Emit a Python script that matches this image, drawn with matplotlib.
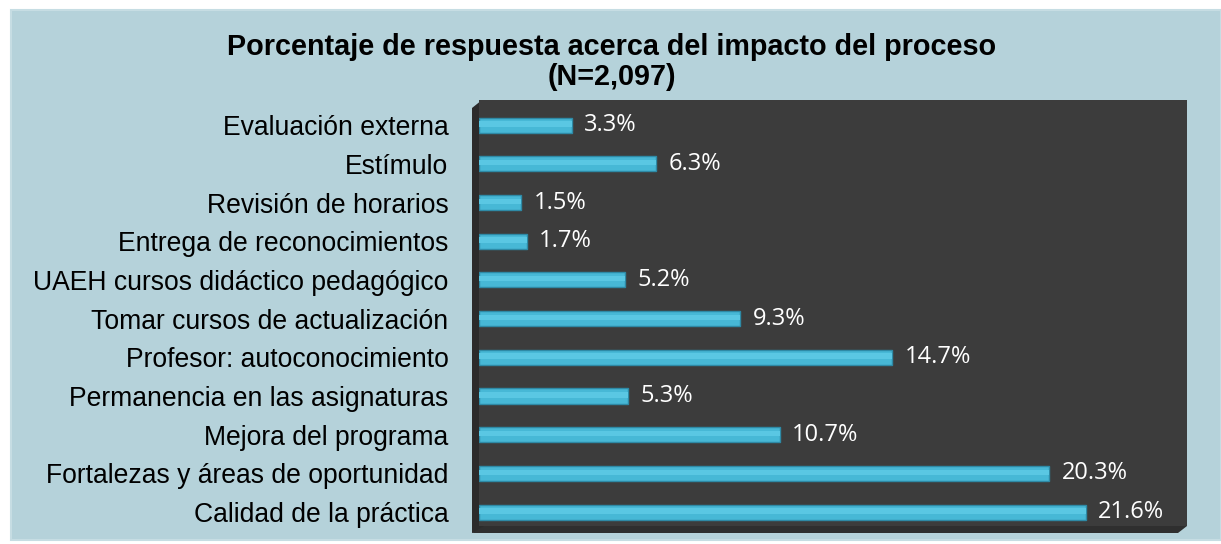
import matplotlib
matplotlib.use("Agg")
import matplotlib.pyplot as plt
from matplotlib.patches import Polygon, Rectangle

categories = ["Calidad de la práctica", "Fortalezas y áreas de oportunidad",
              "Mejora del programa", "Permanencia en las asignaturas",
              "Profesor: autoconocimiento", "Tomar cursos de actualización",
              "UAEH cursos didáctico pedagógico", "Entrega de reconocimientos",
              "Revisión de horarios", "Estímulo", "Evaluación externa"]
values = [21.6, 20.3, 10.7, 5.3, 14.7, 9.3, 5.2, 1.7, 1.5, 6.3, 3.3]
value_labels = ["21.6%", "20.3%", "10.7%", "5.3%", "14.7%", "9.3%",
                "5.2%", "1.7%", "1.5%", "6.3%", "3.3%"]
title = "Porcentaje de respuesta acerca del impacto del proceso\n(N=2,097)"

W, H = 1221, 544
fig = plt.figure(figsize=(W / 100, H / 100), dpi=100)
fig.patch.set_facecolor("white")

def fx(x):
    return x / W

def fy(y):
    return 1 - y / H

# light blue panel
fig.patches.append(Rectangle((fx(11), fy(540)), fx(W - 11), fy(10) - fy(540),
                             transform=fig.transFigure, facecolor="#b5d2da",
                             edgecolor="#c6dde3", linewidth=1.5, zorder=0))

# 3D wall / floor of plot area
wall = Polygon([(fx(472), fy(108)), (fx(482), fy(100)), (fx(484), fy(100)),
                (fx(484), fy(530)), (fx(472), fy(533))],
               closed=True, transform=fig.transFigure, facecolor="#2b2b2b",
               edgecolor="none", zorder=1)
floor = Polygon([(fx(472), fy(533)), (fx(1178), fy(533)), (fx(1187), fy(526)),
                 (fx(484), fy(526))],
                closed=True, transform=fig.transFigure, facecolor="#2f2f2f",
                edgecolor="none", zorder=1)
fig.patches.append(wall)
fig.patches.append(floor)

ax = fig.add_axes([fx(479), fy(526), fx(1187) - fx(479), fy(100) - fy(526)])
ax.set_facecolor("#3c3c3c")
ax.set_zorder(2)

y = list(range(len(categories)))
ax.barh(y, values, height=0.39, color="#47b8d6", edgecolor="#2e8aa6",
        linewidth=1.0, zorder=3)
ax.barh([yi + 0.03 for yi in y], values, height=0.14, color="#5ac7e3",
        edgecolor="none", zorder=4)

for yi, v, lab in zip(y, values, value_labels):
    ax.annotate(lab, (v, yi), xytext=(9, 0), textcoords="offset points",
                va="center", ha="left", color="white", fontsize=17,
                family="Open Sans")

ax.set_xlim(0, 25.2)
ax.set_ylim(-0.36, 10.65)
ax.set_yticks(y)
ax.set_yticklabels(categories, fontsize=19.1, family="Liberation Sans",
                   color="black")
ax.tick_params(axis="y", length=0, pad=22)
ax.set_xticks([])
for s in ax.spines.values():
    s.set_visible(False)

fig.text(fx(612), fy(62), title, ha="center", va="center", fontsize=20.7,
         fontweight="bold", family="Liberation Sans", linespacing=1.12)

fig.savefig("out.png", dpi=100)
